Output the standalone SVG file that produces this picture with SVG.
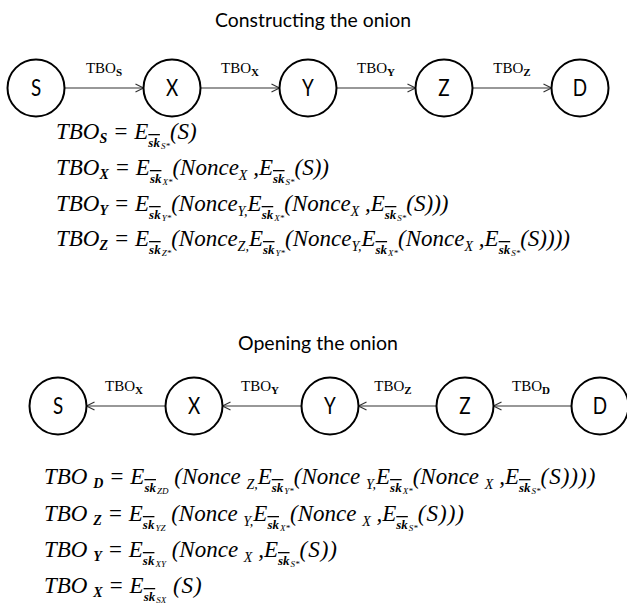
<svg xmlns="http://www.w3.org/2000/svg" width="627" height="612" viewBox="0 0 627 612">
<style>
.title{font-family:Lato,"Open Sans",sans-serif;font-size:20px;fill:#000;text-anchor:middle}
.node circle{fill:#fff;stroke:#000;stroke-width:2}
.node text{font-family:Lato,"Open Sans",sans-serif;font-size:23px;fill:#000;text-anchor:middle}
.conn line{stroke:#333;stroke-width:1.2}
.lab{font-family:"Liberation Serif",serif;font-size:15px;fill:#000;text-anchor:middle}
.lab tspan{font-size:11px;font-weight:bold}
.f{font-family:"Liberation Serif",serif;font-style:italic;font-size:23px;fill:#000}
.t{font-size:14px;font-weight:bold}
.k{font-size:13px;font-weight:bold;text-decoration:overline}
.q{font-size:9px}
.n{font-size:14px}
</style>
<defs>
<marker id="ah" markerUnits="userSpaceOnUse" markerWidth="12" markerHeight="12" refX="9" refY="5" orient="auto">
<path d="M1,1 L9,5 L1,9" fill="none" stroke="#333" stroke-width="1.2"/>
</marker>
</defs>
<rect width="627" height="612" fill="#fff"/>
<text class="title" x="313" y="27" textLength="196" lengthAdjust="spacingAndGlyphs">Constructing the onion</text>
<text class="title" x="318" y="350" textLength="160" lengthAdjust="spacingAndGlyphs">Opening the onion</text>

<g class="conn" id="connectors">
<line x1="64.5" y1="88" x2="143.5" y2="88" marker-end="url(#ah)"/>
<line x1="200.5" y1="88" x2="279.5" y2="88" marker-end="url(#ah)"/>
<line x1="336.5" y1="88" x2="415.5" y2="88" marker-end="url(#ah)"/>
<line x1="472.5" y1="88" x2="551.5" y2="88" marker-end="url(#ah)"/>
<line x1="165.5" y1="406" x2="86.5" y2="406" marker-end="url(#ah)"/>
<line x1="301.5" y1="406" x2="222.5" y2="406" marker-end="url(#ah)"/>
<line x1="436.5" y1="406" x2="358.5" y2="406" marker-end="url(#ah)"/>
<line x1="571.5" y1="406" x2="493.5" y2="406" marker-end="url(#ah)"/>
</g>
<g id="connector-labels">
<text class="lab" x="104" y="73">TBO<tspan dy="3">S</tspan></text>
<text class="lab" x="240" y="73">TBO<tspan dy="3">X</tspan></text>
<text class="lab" x="376" y="73">TBO<tspan dy="3">Y</tspan></text>
<text class="lab" x="512" y="73">TBO<tspan dy="3">Z</tspan></text>
<text class="lab" x="124" y="391">TBO<tspan dy="3">X</tspan></text>
<text class="lab" x="260" y="391">TBO<tspan dy="3">Y</tspan></text>
<text class="lab" x="393" y="391">TBO<tspan dy="3">Z</tspan></text>
<text class="lab" x="531" y="391">TBO<tspan dy="3">D</tspan></text>
</g>

<g class="node" id="top-S"><circle cx="36" cy="88" r="28.5"/><text transform="translate(36,96) scale(0.82,1)">S</text></g>
<g class="node" id="top-X"><circle cx="172" cy="88" r="28.5"/><text transform="translate(172,96) scale(0.82,1)">X</text></g>
<g class="node" id="top-Y"><circle cx="308" cy="88" r="28.5"/><text transform="translate(308,96) scale(0.82,1)">Y</text></g>
<g class="node" id="top-Z"><circle cx="444" cy="88" r="28.5"/><text transform="translate(444,96) scale(0.82,1)">Z</text></g>
<g class="node" id="top-D"><circle cx="580" cy="88" r="28.5"/><text transform="translate(580,96) scale(0.82,1)">D</text></g>
<g class="node" id="bot-S"><circle cx="58" cy="406" r="28.5"/><text transform="translate(58,414) scale(0.82,1)">S</text></g>
<g class="node" id="bot-X"><circle cx="194" cy="406" r="28.5"/><text transform="translate(194,414) scale(0.82,1)">X</text></g>
<g class="node" id="bot-Y"><circle cx="330" cy="406" r="28.5"/><text transform="translate(330,414) scale(0.82,1)">Y</text></g>
<g class="node" id="bot-Z"><circle cx="465" cy="406" r="28.5"/><text transform="translate(465,414) scale(0.82,1)">Z</text></g>
<g class="node" id="bot-D"><circle cx="600" cy="406" r="28.5"/><text transform="translate(600,414) scale(0.82,1)">D</text></g>

<g id="formulas-top">
<text class="f" x="56" y="139">TBO<tspan class="t" dy="4">S</tspan><tspan dy="-4"> = E</tspan><tspan class="k" dy="8">sk</tspan><tspan class="q" dx="1" dy="2">S*</tspan><tspan dy="-10">(S)</tspan></text>
<text class="f" x="56" y="175">TBO<tspan class="t" dy="4">X</tspan><tspan dy="-4"> = E</tspan><tspan class="k" dy="8">sk</tspan><tspan class="q" dx="1" dy="2">X*</tspan><tspan dy="-10">(Nonce</tspan><tspan class="n" dy="5">X</tspan><tspan dy="-5"> ,E</tspan><tspan class="k" dy="8">sk</tspan><tspan class="q" dx="1" dy="2">S*</tspan><tspan dy="-10">(S))</tspan></text>
<text class="f" x="56" y="211">TBO<tspan class="t" dy="4">Y</tspan><tspan dy="-4"> = E</tspan><tspan class="k" dy="8">sk</tspan><tspan class="q" dx="1" dy="2">Y*</tspan><tspan dy="-10">(Nonce</tspan><tspan class="n" dy="5">Y,</tspan><tspan dy="-5">E</tspan><tspan class="k" dy="8">sk</tspan><tspan class="q" dx="1" dy="2">X*</tspan><tspan dy="-10">(Nonce</tspan><tspan class="n" dy="5">X</tspan><tspan dy="-5"> ,E</tspan><tspan class="k" dy="8">sk</tspan><tspan class="q" dx="1" dy="2">S*</tspan><tspan dy="-10">(S)))</tspan></text>
<text class="f" x="56" y="246">TBO<tspan class="t" dy="4">Z</tspan><tspan dy="-4"> = E</tspan><tspan class="k" dy="8">sk</tspan><tspan class="q" dx="1" dy="2">Z*</tspan><tspan dy="-10">(Nonce</tspan><tspan class="n" dy="5">Z,</tspan><tspan dy="-5">E</tspan><tspan class="k" dy="8">sk</tspan><tspan class="q" dx="1" dy="2">Y*</tspan><tspan dy="-10">(Nonce</tspan><tspan class="n" dy="5">Y,</tspan><tspan dy="-5">E</tspan><tspan class="k" dy="8">sk</tspan><tspan class="q" dx="1" dy="2">X*</tspan><tspan dy="-10">(Nonce</tspan><tspan class="n" dy="5">X</tspan><tspan dy="-5"> ,E</tspan><tspan class="k" dy="8">sk</tspan><tspan class="q" dx="1" dy="2">S*</tspan><tspan dy="-10">(S))))</tspan></text>
</g>

<g id="formulas-bottom">
<text class="f" x="44" y="484">TBO <tspan class="t" dy="4">D</tspan><tspan dy="-4"> = E</tspan><tspan class="k" dy="8">sk</tspan><tspan class="q" dx="1" dy="2">ZD</tspan><tspan dy="-10"> (Nonce </tspan><tspan class="n" dy="5">Z,</tspan><tspan dy="-5">E</tspan><tspan class="k" dy="8">sk</tspan><tspan class="q" dx="1" dy="2">Y*</tspan><tspan dy="-10">(Nonce </tspan><tspan class="n" dy="5">Y,</tspan><tspan dy="-5">E</tspan><tspan class="k" dy="8">sk</tspan><tspan class="q" dx="1" dy="2">X*</tspan><tspan dy="-10">(Nonce </tspan><tspan class="n" dy="5">X</tspan><tspan dy="-5"> ,E</tspan><tspan class="k" dy="8">sk</tspan><tspan class="q" dx="1" dy="2">S*</tspan><tspan dy="-10" letter-spacing="1">(S))))</tspan></text>
<text class="f" x="44" y="521">TBO <tspan class="t" dy="4">Z</tspan><tspan dy="-4"> = E</tspan><tspan class="k" dy="8">sk</tspan><tspan class="q" dx="1" dy="2">YZ</tspan><tspan dy="-10"> (Nonce </tspan><tspan class="n" dy="5">Y,</tspan><tspan dy="-5">E</tspan><tspan class="k" dy="8">sk</tspan><tspan class="q" dx="1" dy="2">X*</tspan><tspan dy="-10">(Nonce </tspan><tspan class="n" dy="5">X</tspan><tspan dy="-5"> ,E</tspan><tspan class="k" dy="8">sk</tspan><tspan class="q" dx="1" dy="2">S*</tspan><tspan dy="-10" letter-spacing="1">(S)))</tspan></text>
<text class="f" x="44" y="557">TBO <tspan class="t" dy="4">Y</tspan><tspan dy="-4"> = E</tspan><tspan class="k" dy="8">sk</tspan><tspan class="q" dx="1" dy="2">XY</tspan><tspan dy="-10"> (Nonce </tspan><tspan class="n" dy="5">X</tspan><tspan dy="-5"> ,E</tspan><tspan class="k" dy="8">sk</tspan><tspan class="q" dx="1" dy="2">S*</tspan><tspan dy="-10" letter-spacing="1">(S))</tspan></text>
<text class="f" x="44" y="593">TBO <tspan class="t" dy="4">X</tspan><tspan dy="-4"> = E</tspan><tspan class="k" dy="8">sk</tspan><tspan class="q" dx="1" dy="2">SX</tspan><tspan dy="-10" letter-spacing="1"> (S)</tspan></text>
</g>
</svg>
